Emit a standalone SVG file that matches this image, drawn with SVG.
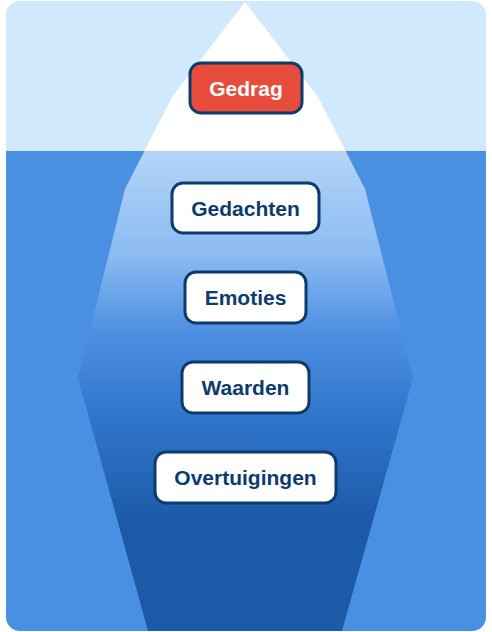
<svg xmlns="http://www.w3.org/2000/svg" width="492" height="632" viewBox="0 0 492 632">
  <style>
    .node rect { stroke: #0d3b6e; stroke-width: 3; }
    .node text { font-family: "Liberation Sans", Arial, sans-serif; font-weight: bold; font-size: 21px; text-anchor: middle; dominant-baseline: central; }
    .plain rect { fill: #ffffff; }
    .plain text { fill: #0d3b6e; }
    .top rect { fill: #e74c3c; }
    .top text { fill: #ffffff; }
  </style>
  <defs>
    <clipPath id="panel">
      <rect x="6" y="1" width="480" height="630" rx="14"/>
    </clipPath>
    <clipPath id="above">
      <rect x="0" y="0" width="492" height="151"/>
    </clipPath>
    <clipPath id="below">
      <rect x="0" y="151" width="492" height="481"/>
    </clipPath>
    <linearGradient id="deep" gradientUnits="userSpaceOnUse" x1="0" y1="151" x2="0" y2="631">
      <stop offset="0" stop-color="#b4d4f7"/>
      <stop offset="0.21" stop-color="#8dbcf2"/>
      <stop offset="0.375" stop-color="#4f90e2"/>
      <stop offset="0.56" stop-color="#3075cb"/>
      <stop offset="0.77" stop-color="#1c5aa8"/>
      <stop offset="1" stop-color="#1c5aa8"/>
    </linearGradient>
  </defs>
  <g id="background" clip-path="url(#panel)">
    <rect x="6" y="1" width="480" height="150" fill="#d0e9fc"/>
    <rect x="6" y="151" width="480" height="480" fill="#4a90e2"/>
    <g id="iceberg">
      <polygon clip-path="url(#above)" fill="#ffffff" points="245,2 318,97 365,189 413,378 342,631 148,631 78,378 125,189 172,97"/>
      <polygon clip-path="url(#below)" fill="url(#deep)" points="245,2 318,97 365,189 413,378 342,631 148,631 78,378 125,189 172,97"/>
    </g>
  </g>
  <g id="connectors"></g>
  <g id="gedrag" class="node top">
    <rect x="190" y="63" width="112" height="50" rx="11"/>
    <text x="246" y="88">Gedrag</text>
  </g>
  <g id="gedachten" class="node plain">
    <rect x="172" y="183" width="147" height="50" rx="11"/>
    <text x="245.5" y="208">Gedachten</text>
  </g>
  <g id="emoties" class="node plain">
    <rect x="185" y="272" width="121" height="51" rx="11"/>
    <text x="245.5" y="297.5">Emoties</text>
  </g>
  <g id="waarden" class="node plain">
    <rect x="182" y="362" width="127" height="51" rx="11"/>
    <text x="245.5" y="387.5">Waarden</text>
  </g>
  <g id="overtuigingen" class="node plain">
    <rect x="155" y="452" width="181" height="51" rx="11"/>
    <text x="245.5" y="477.5">Overtuigingen</text>
  </g>
</svg>
